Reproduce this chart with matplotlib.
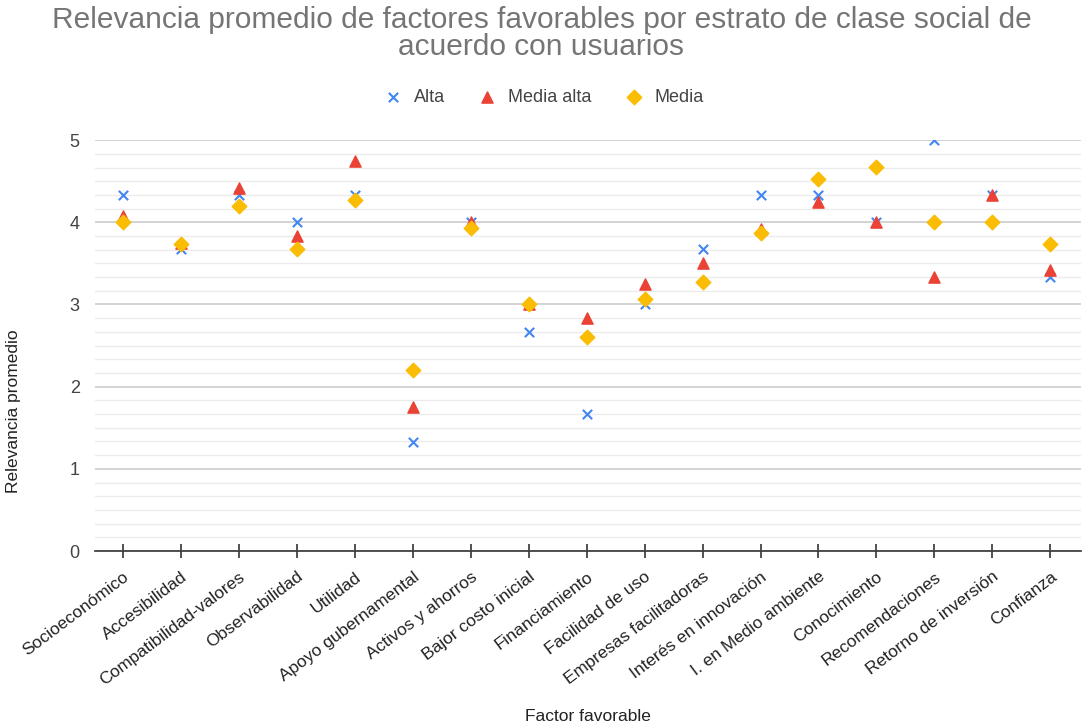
import numpy as np
import matplotlib
matplotlib.use("Agg")
import matplotlib.pyplot as plt
from matplotlib.ticker import MultipleLocator

plt.rcParams['font.family'] = ['Liberation Sans', 'DejaVu Sans']

factores = ["Socioeconómico", "Accesibilidad", "Compatibilidad-valores", "Observabilidad",
            "Utilidad", "Apoyo gubernamental", "Activos y ahorros", "Bajor costo inicial",
            "Financiamiento", "Facilidad de uso", "Empresas facilitadoras",
            "Interés en innovación", "I. en Medio ambiente", "Conocimiento",
            "Recomendaciones", "Retorno de inversión", "Confianza"]

alta = [4.33, 3.67, 4.33, 4.0, 4.33, 1.33, 4.0, 2.67, 1.67, 3.0, 3.67,
        4.33, 4.33, 4.0, 5.0, 4.33, 3.33]
media_alta = [4.08, 3.75, 4.42, 3.83, 4.75, 1.75, 4.0, 3.0, 2.83, 3.25, 3.5,
              3.92, 4.25, 4.0, 3.33, 4.33, 3.42]
media = [4.0, 3.73, 4.2, 3.67, 4.27, 2.2, 3.93, 3.0, 2.6, 3.07, 3.27,
         3.87, 4.53, 4.67, 4.0, 4.0, 3.73]

x = np.arange(len(factores))

fig = plt.figure(figsize=(10.83, 7.26), dpi=100)
ax = fig.add_axes([0.0877, 0.241, 0.91, 0.566])

ax.scatter(x, alta, marker='x', s=45, color='#4285f4', linewidths=1.5, label='Alta', zorder=3)
ax.scatter(x, media_alta, marker='^', s=65, color='#ea4335', label='Media alta', zorder=4)
ax.scatter(x, media, marker='D', s=55, color='#fbbc04', label='Media', zorder=5)

ax.set_xlim(-0.48, 16.52)
ax.set_ylim(0, 5)
ax.yaxis.set_major_locator(MultipleLocator(1))
ax.yaxis.set_minor_locator(MultipleLocator(1 / 6))
ax.grid(axis='y', which='major', color='#cccccc', linewidth=1.2)
ax.grid(axis='y', which='minor', color='#ebebeb', linewidth=1.0)
ax.set_axisbelow(True)

for s in ['top', 'right', 'left']:
    ax.spines[s].set_visible(False)
ax.spines['bottom'].set_color('#333333')
ax.spines['bottom'].set_linewidth(1.2)

ax.set_xticks(x)
ax.set_xticklabels(factores, rotation=37, ha='right', rotation_mode='anchor',
                   fontsize=12.5, color='#222222')
ax.tick_params(axis='x', direction='inout', length=10, width=1.2, color='#333333', pad=8)
ax.tick_params(axis='y', which='both', length=0, labelsize=13, labelcolor='#444444', pad=11)

ax.set_xlabel("Factor favorable", fontsize=12.5, color='#222222')
ax.set_ylabel("Relevancia promedio", fontsize=12.5, color='#222222')
ax.xaxis.set_label_coords(0.5, -0.385)
ax.yaxis.set_label_coords(-0.075, 0.34)

fig.text(0.5, 0.992, "Relevancia promedio de factores favorables por estrato de clase social de\nacuerdo con usuarios",
         ha='center', va='top', fontsize=21.5, color='#757575', linespacing=0.98)

ax.legend(loc='center', bbox_to_anchor=(0.5, 0.866), bbox_transform=fig.transFigure,
          ncol=3, frameon=False, fontsize=13, handletextpad=0.4, columnspacing=1.6,
          handlelength=1.5, labelcolor='#444444')

fig.savefig("out.png", dpi=100)
